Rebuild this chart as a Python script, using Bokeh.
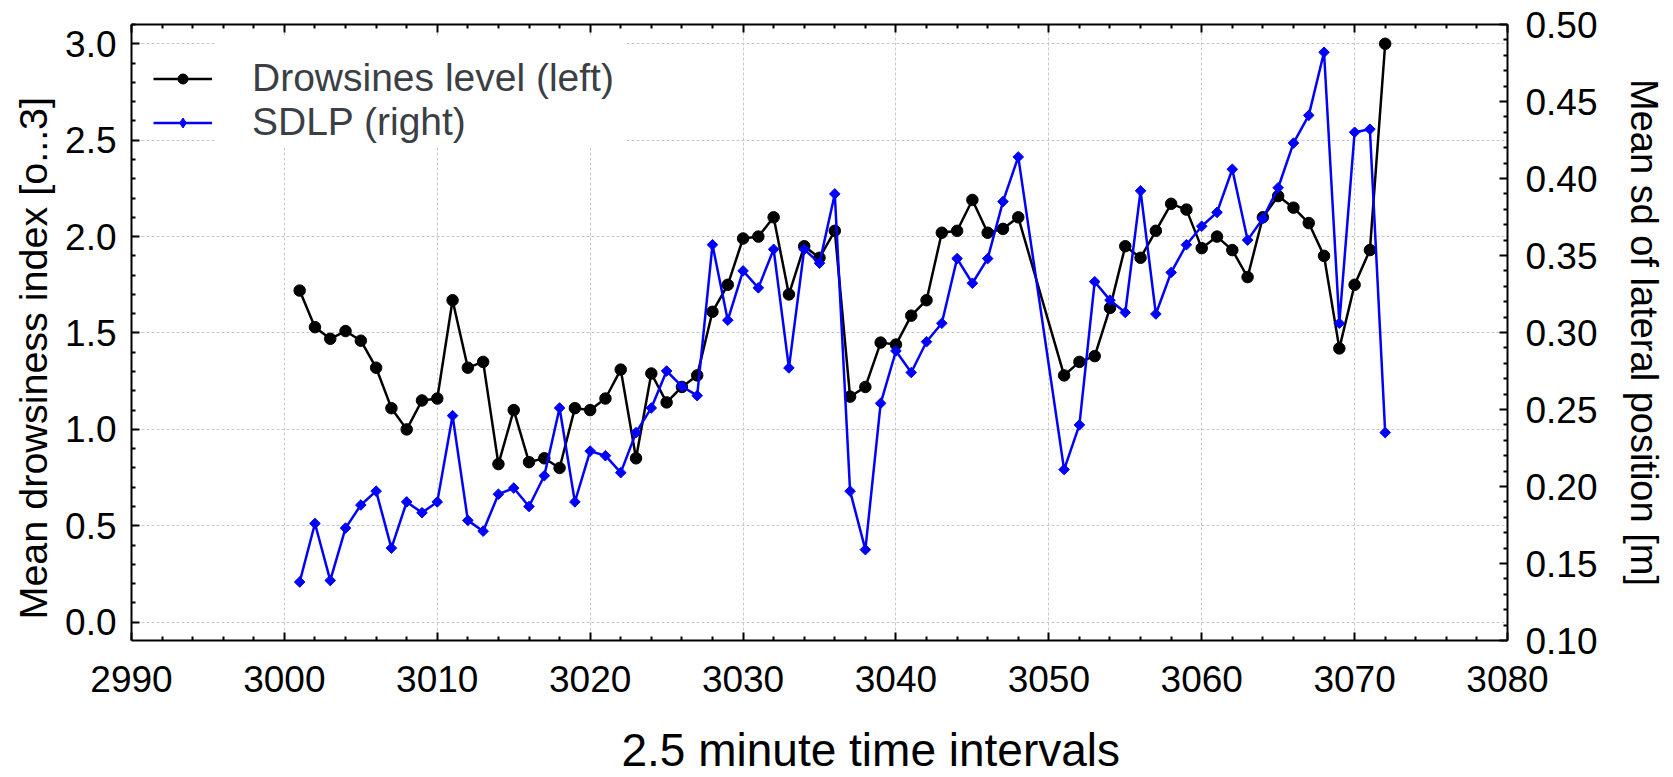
import math
from bokeh.plotting import figure
from bokeh.models import (Range1d, LinearAxis, FixedTicker, NumeralTickFormatter,
                          CustomJSTickFormatter, Legend, LegendItem, Title, BoxAnnotation)
from bokeh.embed import file_html
from bokeh.resources import INLINE

# ---- data ----
intervals = list(range(3001, 3049)) + list(range(3051, 3073))
drowsiness = [1.72, 1.53, 1.47, 1.51, 1.46, 1.32, 1.11, 1.00, 1.15, 1.16,
              1.67, 1.32, 1.35, 0.82, 1.10, 0.83, 0.85, 0.80, 1.11, 1.10,
              1.16, 1.31, 0.85, 1.29, 1.14, 1.22, 1.28, 1.61, 1.75, 1.99,
              2.00, 2.10, 1.70, 1.95, 1.89, 2.03, 1.17, 1.22, 1.45, 1.44,
              1.59, 1.67, 2.02, 2.03, 2.19, 2.02, 2.04, 2.10,
              1.28, 1.35, 1.38, 1.63, 1.95, 1.89, 2.03, 2.17, 2.14, 1.94,
              2.00, 1.93, 1.79, 2.10, 2.21, 2.15, 2.07, 1.90, 1.42, 1.75,
              1.93, 3.00]
sdlp = [0.138, 0.176, 0.139, 0.173, 0.188, 0.197, 0.160, 0.190, 0.183, 0.190,
        0.246, 0.178, 0.171, 0.195, 0.199, 0.187, 0.207, 0.251, 0.190, 0.223,
        0.220, 0.209, 0.235, 0.251, 0.275, 0.265, 0.259, 0.357, 0.308, 0.340,
        0.329, 0.354, 0.277, 0.354, 0.345, 0.390, 0.197, 0.159, 0.254, 0.288,
        0.274, 0.294, 0.306, 0.348, 0.332, 0.348, 0.385, 0.414,
        0.211, 0.240, 0.333, 0.321, 0.313, 0.392, 0.312, 0.339, 0.357, 0.369,
        0.378, 0.406, 0.360, 0.374, 0.394, 0.423, 0.441, 0.482, 0.306, 0.430,
        0.432, 0.235]

x_ticks = [2990, 3000, 3010, 3020, 3030, 3040, 3050, 3060, 3070, 3080]
left_ticks = [0.0, 0.5, 1.0, 1.5, 2.0, 2.5, 3.0]
right_ticks = [0.10, 0.15, 0.20, 0.25, 0.30, 0.35, 0.40, 0.45, 0.50]

legend_labels = ["Drowsines level (left)", "SDLP (right)"]
x_label = "2.5 minute time intervals"
left_label = "Mean drowsiness index [o...3]"
right_label = "Mean sd of lateral position [m]"

FONT = "Liberation Sans"

p = figure(width=1673, height=777, output_backend="svg", toolbar_location=None,
           x_range=Range1d(2990, 3080), y_range=Range1d(-0.095, 3.10),
           min_border_left=131, min_border_right=166, min_border_top=24,
           min_border_bottom=137, x_axis_location=None, y_axis_location=None)
p.extra_y_ranges = {"right": Range1d(0.10, 0.50)}
p.outline_line_color = None
p.background_fill_color = "white"
p.border_fill_color = "white"

x_minor = [v for v in range(2990, 3081, 2) if v % 10 != 0]
left_minor = [round(i * 0.1, 2) for i in range(0, 32) if i % 5 != 0]
right_minor = [round(0.10 + i * 0.01, 3) for i in range(0, 41) if i % 5 != 0]


def style_axis(ax, size="37px"):
    ax.axis_line_color = "black"
    ax.axis_line_width = 2
    ax.major_tick_line_color = "black"
    ax.major_tick_line_width = 2
    ax.minor_tick_line_color = "black"
    ax.minor_tick_line_width = 2
    ax.major_tick_in = 8
    ax.major_tick_out = 0
    ax.minor_tick_in = 4
    ax.minor_tick_out = 0
    ax.major_label_text_font = FONT
    ax.major_label_text_font_size = size
    ax.major_label_text_color = "black"


xb = LinearAxis(ticker=FixedTicker(ticks=x_ticks, minor_ticks=x_minor))
style_axis(xb)
xb.major_label_standoff = 25
p.add_layout(xb, "below")

xt = LinearAxis(ticker=FixedTicker(ticks=x_ticks, minor_ticks=x_minor),
                formatter=CustomJSTickFormatter(code="return ''"))
style_axis(xt)
xt.major_label_standoff = 0
p.add_layout(xt, "above")

yl = LinearAxis(ticker=FixedTicker(ticks=left_ticks, minor_ticks=left_minor),
                formatter=NumeralTickFormatter(format="0.0"))
style_axis(yl)
yl.major_label_standoff = 15
p.add_layout(yl, "left")

yr = LinearAxis(y_range_name="right",
                ticker=FixedTicker(ticks=right_ticks, minor_ticks=right_minor),
                formatter=NumeralTickFormatter(format="0.00"),
                axis_label=right_label)
style_axis(yr)
yr.major_label_standoff = 18
yr.axis_label_standoff = 22
yr.axis_label_text_font = FONT
yr.axis_label_text_font_size = "38px"
yr.axis_label_text_font_style = "normal"
yr.axis_label_text_color = "black"
p.add_layout(yr, "right")

# axis titles (the x title uses an empty first line so it can sit lower)
p.add_layout(Title(text="\n" + x_label, align="left", offset=490, text_font=FONT,
                   text_font_size="46px", text_font_style="normal",
                   text_color="black", vertical_align="bottom", standoff=-50), "below")
p.add_layout(Title(text=left_label, align="left", offset=21, text_font=FONT,
                   text_font_size="39.5px", text_font_style="normal",
                   text_color="black", standoff=15), "left")

# grid
p.xgrid.ticker = FixedTicker(ticks=x_ticks)
p.ygrid.ticker = FixedTicker(ticks=left_ticks)
for g in (p.xgrid, p.ygrid):
    g.grid_line_color = "#c8c8c8"
    g.grid_line_width = 1
    g.grid_line_dash = "3 2"

# series
l1 = p.line(intervals, drowsiness, line_color="black", line_width=2.5)
m1 = p.scatter(intervals, drowsiness, marker="circle", size=11.5,
               fill_color="black", line_color="black")
l2 = p.line(intervals, sdlp, line_color="#0000ff", line_width=2.5, y_range_name="right")
m2 = p.scatter(intervals, sdlp, marker="square", size=7.5, angle=math.pi / 4,
               fill_color="#0000ff", line_color="#0000ff", y_range_name="right")
# legend-only diamond (placed outside the visible range)
m2_key = p.scatter([2980], [0.3], marker="diamond", size=10,
                   fill_color="#0000ff", line_color="#0000ff", y_range_name="right")

# white box behind legend text
p.add_layout(BoxAnnotation(left=2995.5, right=3022.4, top=3.034, bottom=2.46,
                           fill_color="white", fill_alpha=1.0, line_alpha=0))

legend = Legend(items=[LegendItem(label=legend_labels[0], renderers=[l1, m1]),
                       LegendItem(label=legend_labels[1], renderers=[l2, m2_key])],
                location=(22, 496))
legend.label_text_font = FONT
legend.label_text_font_size = "39px"
legend.label_text_color = "#3b3f45"
legend.glyph_width = 59
legend.glyph_height = 25
legend.label_height = 43
legend.label_standoff = 40
legend.spacing = 0
legend.padding = 0
legend.margin = 0
legend.background_fill_alpha = 0
legend.border_line_alpha = 0
p.add_layout(legend)

open("out.html", "w").write(file_html(p, INLINE))
